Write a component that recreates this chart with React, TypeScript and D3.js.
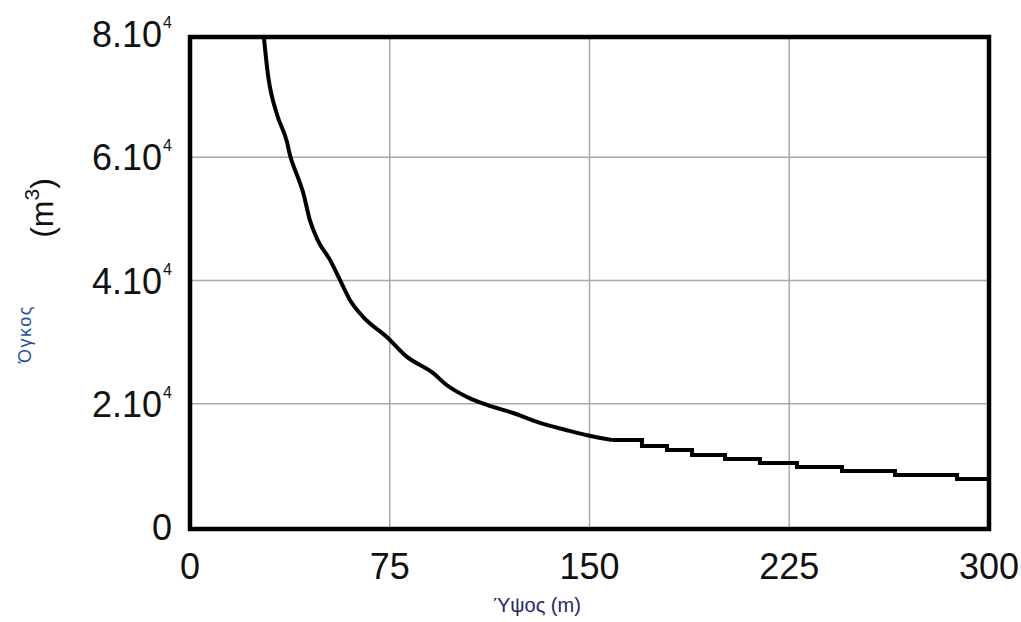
import React, { useEffect, useRef } from "react";
import * as d3 from "d3";

// height (m) vs volume (m^3)
const heightSmooth = [27.5, 29.3, 32.7, 36.4, 37.5, 40.2, 42.4, 45.0, 47.9, 52.6, 56.3, 60.1, 65.0, 74.0, 81.5, 91.2, 96.5, 104.0, 111.5, 121.3, 131.4, 141.6, 149.1, 158.8];
const volumeSmooth = [80500, 73300, 66900, 62500, 60400, 57100, 54400, 49800, 46600, 43300, 40100, 36800, 34100, 30800, 27600, 25000, 23000, 21100, 19800, 18500, 16900, 15700, 14900, 14100];

// the tail is drawn as a staircase
const heightSteps = [158.8, 169.7, 179.1, 188.5, 200.9, 214.0, 227.9, 244.8, 264.7, 288.0, 300];
const volumeSteps = [14100, 13150, 12500, 11700, 11030, 10400, 9750, 9100, 8450, 7800, 7800];

const xTicks = [0, 75, 150, 225, 300];
const yTicks = [0, 20000, 40000, 60000, 80000];
const yTickLabels = ["0", "2.10", "4.10", "6.10", "8.10"];
const yTickExp = ["", "4", "4", "4", "4"];

const xTitle = "Ύψος (m)";
const yTitle = "Όγκος";
const yUnit = "(m";

export default function App() {
  const svgRef = useRef<SVGSVGElement>(null);

  useEffect(() => {
    const width = 1021;
    const height = 622;
    const frame = { left: 190, right: 989, top: 37, bottom: 529 };
    const font = "'Liberation Sans', Arial, sans-serif";

    const svg = d3.select(svgRef.current).attr("width", width).attr("height", height);
    svg.selectAll("*").remove();

    const x = d3.scaleLinear().domain([0, 300]).range([frame.left, frame.right]);
    const y = d3.scaleLinear().domain([0, 80000]).range([527, 34]);

    svg.append("defs")
      .append("clipPath")
      .attr("id", "plotClip")
      .append("rect")
      .attr("x", frame.left)
      .attr("y", frame.top)
      .attr("width", frame.right - frame.left)
      .attr("height", frame.bottom - frame.top);

    // grid
    const grid = svg.append("g").attr("stroke", "#a9a9a9").attr("stroke-width", 1.5);
    grid.selectAll("line.gx")
      .data(xTicks.slice(1, -1))
      .enter().append("line")
      .attr("x1", d => x(d)).attr("x2", d => x(d))
      .attr("y1", frame.top).attr("y2", frame.bottom);
    grid.selectAll("line.gy")
      .data(yTicks.slice(1, -1))
      .enter().append("line")
      .attr("x1", frame.left).attr("x2", frame.right)
      .attr("y1", d => y(d)).attr("y2", d => y(d));

    // curve
    const line = d3.line<[number, number]>().x(d => x(d[0])).y(d => y(d[1]));
    const plot = svg.append("g").attr("clip-path", "url(#plotClip)");
    plot.append("path")
      .datum(heightSmooth.map((h, i) => [h, volumeSmooth[i]] as [number, number]))
      .attr("fill", "none")
      .attr("stroke", "#000")
      .attr("stroke-width", 4)
      .attr("stroke-linejoin", "round")
      .attr("d", line.curve(d3.curveMonotoneX));
    plot.append("path")
      .datum(heightSteps.map((h, i) => [h, volumeSteps[i]] as [number, number]))
      .attr("fill", "none")
      .attr("stroke", "#000")
      .attr("stroke-width", 4)
      .attr("d", line.curve(d3.curveStepAfter));

    // frame
    svg.append("rect")
      .attr("x", frame.left).attr("y", frame.top)
      .attr("width", frame.right - frame.left)
      .attr("height", frame.bottom - frame.top)
      .attr("fill", "none")
      .attr("stroke", "#000")
      .attr("stroke-width", 4.5);

    // x tick labels
    svg.append("g")
      .selectAll("text")
      .data(xTicks)
      .enter().append("text")
      .attr("x", d => x(d))
      .attr("y", 579)
      .attr("text-anchor", "middle")
      .attr("font-family", font)
      .attr("font-size", 36)
      .attr("fill", "#111")
      .text(d => String(d));

    // y tick labels with exponent
    const yl = svg.append("g")
      .selectAll("text")
      .data(yTicks)
      .enter().append("text")
      .attr("x", 172)
      .attr("y", d => y(d) + 13)
      .attr("text-anchor", "end")
      .attr("font-family", font)
      .attr("font-size", 36)
      .attr("fill", "#111");
    yl.append("tspan").text((d, i) => yTickLabels[i]);
    yl.append("tspan")
      .attr("font-size", 16)
      .attr("dy", -19)
      .attr("dx", 1)
      .text((d, i) => yTickExp[i]);

    // axis titles
    svg.append("text")
      .attr("x", 537)
      .attr("y", 612)
      .attr("text-anchor", "middle")
      .attr("font-family", font)
      .attr("font-size", 20)
      .attr("fill", "#2a2466")
      .text(xTitle);

    svg.append("text")
      .attr("transform", "translate(31,334) rotate(-90)")
      .attr("text-anchor", "middle")
      .attr("font-family", font)
      .attr("font-size", 18)
      .attr("letter-spacing", 1.5)
      .attr("fill", "#1f4f9e")
      .text(yTitle);

    const unit = svg.append("text")
      .attr("transform", "translate(53,208) rotate(-90)")
      .attr("text-anchor", "middle")
      .attr("font-family", font)
      .attr("font-size", 32)
      .attr("fill", "#111");
    unit.append("tspan").text(yUnit);
    unit.append("tspan").attr("font-size", 21).attr("dy", -14).text("3");
    unit.append("tspan").attr("dy", 14).text(")");
  }, []);

  return (
    <svg ref={svgRef} style={{ position: "absolute", left: 0, top: 0, background: "#fff" }}></svg>
  );
}
